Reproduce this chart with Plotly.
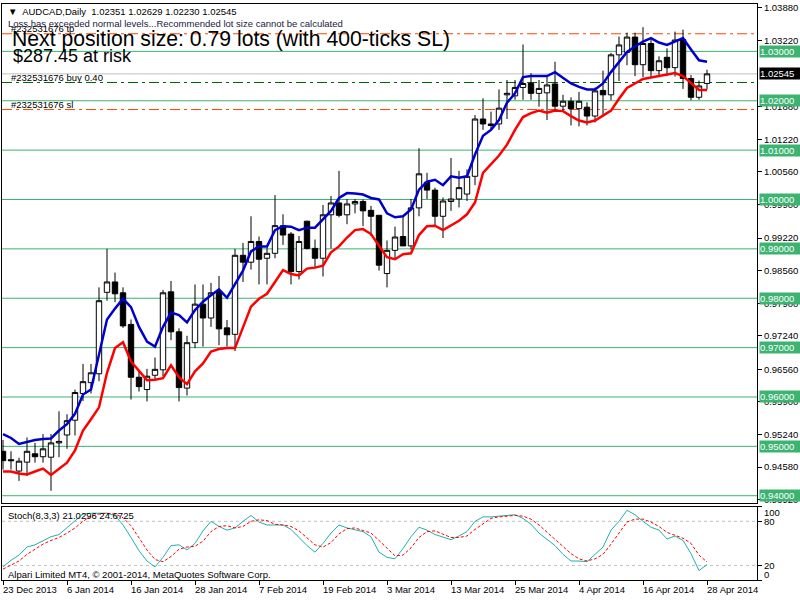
import plotly.graph_objects as go

# ---------------- data ----------------
tick_labels = ["23 Dec 2013", "6 Jan 2014", "16 Jan 2014", "28 Jan 2014", "7 Feb 2014",
               "19 Feb 2014", "3 Mar 2014", "13 Mar 2014", "25 Mar 2014", "4 Apr 2014",
               "16 Apr 2014", "28 Apr 2014"]
tick_bars = [0, 8, 16, 24, 32, 40, 48, 56, 64, 72, 80, 88]

opens = [0.9490, 0.9473, 0.9450, 0.9468, 0.9485, 0.9479, 0.9478, 0.9507, 0.9523, 0.9553,
         0.9607, 0.9629, 0.9647, 0.9812, 0.9833, 0.9811, 0.9747, 0.9640, 0.9615, 0.9644,
         0.9655, 0.9813, 0.9732, 0.9618, 0.9710, 0.9788, 0.9760, 0.9814, 0.9740, 0.9727,
         0.9887, 0.9873, 0.9915, 0.9881, 0.9891, 0.9947, 0.9930, 0.9854, 0.9956, 0.9901,
         0.9881, 0.9969, 0.9993, 0.9969, 0.9991, 0.9996, 0.9978, 0.9968, 0.9850, 0.9897,
         0.9925, 0.9906, 0.9983, 1.0035, 1.0019, 0.9966, 0.9996, 1.0001, 1.0011, 1.0047,
         1.0163, 1.0153, 1.0153, 1.0212, 1.0210, 1.0227, 1.0235, 1.0215, 1.0216, 1.0234,
         1.0189, 1.0199, 1.0184, 1.0187, 1.0169, 1.0221, 1.0212, 1.0293, 1.0298, 1.0329,
         1.0273, 1.0316, 1.0261, 1.0288, 1.0267, 1.0324, 1.0245, 1.0207, 1.02351]
highs = [0.9513, 0.9490, 0.9477, 0.9518, 0.9507, 0.9525, 0.9525, 0.9571, 0.9565, 0.9615,
         0.9667, 0.9667, 0.9822, 0.9900, 0.9852, 0.9822, 0.9757, 0.9652, 0.9657, 0.9680,
         0.9817, 0.9835, 0.9739, 0.9724, 0.9828, 0.9828, 0.9831, 0.9845, 0.9756, 0.9900,
         0.9912, 0.9966, 0.9925, 0.9903, 1.0009, 0.9970, 0.9934, 0.9926, 0.9957, 0.9919,
         0.9989, 1.0007, 1.0058, 1.0001, 1.0001, 1.0000, 0.9987, 0.9968, 0.9917, 0.9945,
         0.9966, 1.0001, 1.0104, 1.0054, 1.0024, 1.0004, 1.0084, 1.0058, 1.0061, 1.0171,
         1.0205, 1.0178, 1.0223, 1.0242, 1.0242, 1.0314, 1.0256, 1.0242, 1.0248, 1.0279,
         1.0212, 1.0207, 1.0218, 1.0197, 1.0227, 1.0261, 1.0297, 1.0330, 1.0338, 1.0338,
         1.0349, 1.0324, 1.0290, 1.0306, 1.0340, 1.0344, 1.0252, 1.0241, 1.02629]
lows = [0.9453, 0.9453, 0.9430, 0.9440, 0.9467, 0.9467, 0.9410, 0.9478, 0.9495, 0.9522,
        0.9592, 0.9607, 0.9632, 0.9795, 0.9792, 0.9740, 0.9595, 0.9611, 0.9591, 0.9635,
        0.9642, 0.9715, 0.9591, 0.9603, 0.9699, 0.9702, 0.9742, 0.9705, 0.9702, 0.9693,
        0.9833, 0.9858, 0.9828, 0.9828, 0.9881, 0.9908, 0.9828, 0.9838, 0.9899, 0.9862,
        0.9844, 0.9901, 0.9964, 0.9950, 0.9972, 0.9946, 0.9926, 0.9856, 0.9822, 0.9878,
        0.9906, 0.9899, 0.9966, 1.0001, 0.9947, 0.9922, 0.9977, 0.9984, 0.9997, 1.0029,
        1.0141, 1.0141, 1.0141, 1.0163, 1.0202, 1.0202, 1.0202, 1.0188, 1.0161, 1.0181,
        1.0180, 1.0150, 1.0148, 1.0150, 1.0156, 1.0170, 1.0201, 1.0240, 1.0272, 1.0250,
        1.0248, 1.0246, 1.0252, 1.0250, 1.0249, 1.0224, 1.0201, 1.0202, 1.02230]
closes = [0.9471, 0.9471, 0.9470, 0.9490, 0.9479, 0.9495, 0.9507, 0.9510, 0.9552, 0.9609,
          0.9631, 0.9649, 0.9795, 0.9833, 0.9809, 0.9744, 0.9640, 0.9621, 0.9642, 0.9656,
          0.9811, 0.9732, 0.9619, 0.9710, 0.9788, 0.9760, 0.9811, 0.9738, 0.9726, 0.9887,
          0.9873, 0.9915, 0.9879, 0.9891, 0.9947, 0.9928, 0.9854, 0.9915, 0.9901, 0.9881,
          0.9969, 0.9993, 0.9968, 0.9991, 0.9996, 0.9977, 0.9966, 0.9867, 0.9897, 0.9924,
          0.9906, 0.9983, 1.0052, 1.0019, 0.9966, 0.9997, 1.0001, 1.0024, 1.0047, 1.0163,
          1.0153, 1.0150, 1.0185, 1.0215, 1.0227, 1.0235, 1.0215, 1.0225, 1.0232, 1.0189,
          1.0199, 1.0184, 1.0199, 1.0169, 1.0220, 1.0212, 1.0293, 1.0313, 1.0329, 1.0273,
          1.0316, 1.0261, 1.0281, 1.0267, 1.0323, 1.0245, 1.0207, 1.0230, 1.02545]

upper_band = [0.9525, 0.9517, 0.9505, 0.9509, 0.9513, 0.9515, 0.9516, 0.9532, 0.9545, 0.9566,
              0.9605, 0.9615, 0.9685, 0.9757, 0.9779, 0.9799, 0.9782, 0.9742, 0.9712, 0.9702,
              0.9742, 0.9771, 0.9766, 0.9751, 0.9776, 0.9793, 0.9806, 0.9818, 0.9801, 0.9830,
              0.9856, 0.9895, 0.9905, 0.9905, 0.9938, 0.9946, 0.9945, 0.9938, 0.9943, 0.9943,
              0.9960, 0.9977, 1.0003, 1.0013, 1.0012, 1.0010, 1.0003, 1.0000, 0.9972, 0.9964,
              0.9966, 0.9980, 1.0020, 1.0036, 1.0040, 1.0029, 1.0047, 1.0044, 1.0047, 1.0091,
              1.0129, 1.0141, 1.0161, 1.0196, 1.0215, 1.0248, 1.0250, 1.0250, 1.0250, 1.0258,
              1.0246, 1.0235, 1.0228, 1.0223, 1.0223, 1.0235, 1.0258, 1.0279, 1.0299, 1.0310,
              1.0320, 1.0327, 1.0318, 1.0313, 1.0320, 1.0327, 1.0304, 1.0282, 1.0279]
lower_band = [0.9449, 0.9449, 0.9445, 0.9443, 0.9449, 0.9455, 0.9442, 0.9455, 0.9467, 0.9492,
              0.9532, 0.9555, 0.9579, 0.9649, 0.9699, 0.9711, 0.9672, 0.9653, 0.9634, 0.9635,
              0.9638, 0.9664, 0.9640, 0.9626, 0.9652, 0.9668, 0.9692, 0.9697, 0.9699, 0.9699,
              0.9739, 0.9783, 0.9799, 0.9809, 0.9833, 0.9857, 0.9849, 0.9846, 0.9860, 0.9862,
              0.9866, 0.9893, 0.9905, 0.9923, 0.9938, 0.9940, 0.9930, 0.9906, 0.9883, 0.9879,
              0.9889, 0.9891, 0.9928, 0.9946, 0.9947, 0.9938, 0.9947, 0.9957, 0.9970, 0.9994,
              1.0054, 1.0071, 1.0089, 1.0111, 1.0141, 1.0167, 1.0175, 1.0180, 1.0176, 1.0180,
              1.0179, 1.0169, 1.0160, 1.0156, 1.0160, 1.0170, 1.0180, 1.0204, 1.0226, 1.0235,
              1.0244, 1.0247, 1.0250, 1.0252, 1.0256, 1.0250, 1.0235, 1.0222, 1.0222]

stoch_main = [18, 27, 34, 45, 48, 54, 59, 62, 71, 80,
              90, 91, 91, 91, 88, 75, 58, 40, 26, 18,
              31, 47, 48, 41, 50, 67, 80, 73, 68, 71,
              80, 88, 79, 75, 75, 75, 69, 58, 47, 38,
              50, 64, 75, 71, 68, 66, 59, 38, 31, 29,
              43, 59, 72, 68, 62, 58, 55, 60, 66, 80,
              86, 86, 87, 88, 89, 84, 76, 64, 56, 47,
              35, 26, 26, 25, 35, 45, 68, 80, 95, 89,
              80, 72, 68, 56, 60, 54, 36, 13, 21.0296]
stoch_signal = [15, 21, 26, 35, 42, 49, 54, 58, 64, 71,
                80, 87, 90, 91, 90, 85, 74, 58, 41, 28,
                25, 32, 42, 45, 46, 53, 66, 73, 74, 71,
                73, 80, 82, 81, 76, 75, 73, 67, 58, 48,
                45, 51, 63, 70, 71, 68, 64, 54, 43, 33,
                34, 44, 58, 66, 67, 63, 58, 58, 60, 69,
                77, 84, 86, 87, 88, 87, 83, 75, 65, 56,
                46, 36, 29, 26, 29, 35, 49, 64, 79, 83,
                83, 79, 73, 65, 61, 57, 50, 34, 24.6725]

round_levels = [1.03, 1.02, 1.01, 1.00, 0.99, 0.98, 0.97, 0.96, 0.95, 0.94]
round_level_labels = ["1.03000", "1.02000", "1.01000", "1.00000", "0.99000",
                      "0.98000", "0.97000", "0.96000", "0.95000", "0.94000"]
tp_level = 1.03357
sl_level = 1.01822
entry_level = 1.0237
bid_level = 1.02545
price_ticks = [1.0388, 1.0322, 1.0188, 1.0122, 1.0056, 0.9990, 0.9922,
               0.9856, 0.9790, 0.9724, 0.9656, 0.9590, 0.9524, 0.9458, 0.9392]
price_tick_labels = ["1.03880", "1.03220", "1.01880", "1.01220", "1.00560",
                     "0.99900", "0.99220", "0.98560", "0.97900", "0.97240", "0.96560",
                     "0.95900", "0.95240", "0.94580", "0.93920"]
stoch_ticks = [0, 20, 80, 100]
stoch_tick_labels = ["0", "20", "80", "100"]

# ---------------- figure ----------------
W, H = 800, 600
FONT = "Liberation Sans, Arial, sans-serif"
bars = list(range(len(closes)))


def px(x):
    return x / W


def py(y):
    return 1 - y / H


X_RANGE = [-0.125, 94.25]

fig = go.Figure()
fig.add_trace(go.Candlestick(
    x=bars, open=opens, high=highs, low=lows, close=closes,
    increasing=dict(line=dict(color="black", width=1), fillcolor="white"),
    decreasing=dict(line=dict(color="black", width=1), fillcolor="black"),
    whiskerwidth=0, xaxis="x", yaxis="y", showlegend=False, hoverinfo="skip"))
fig.add_trace(go.Scatter(x=bars, y=upper_band, mode="lines",
                         line=dict(color="#0000CD", width=2.5),
                         xaxis="x", yaxis="y", showlegend=False, hoverinfo="skip"))
fig.add_trace(go.Scatter(x=bars, y=lower_band, mode="lines",
                         line=dict(color="#FF0000", width=2.5),
                         xaxis="x", yaxis="y", showlegend=False, hoverinfo="skip"))
fig.add_trace(go.Scatter(x=bars, y=stoch_main, mode="lines",
                         line=dict(color="#20B2AA", width=1),
                         xaxis="x2", yaxis="y2", showlegend=False, hoverinfo="skip"))
fig.add_trace(go.Scatter(x=bars, y=stoch_signal, mode="lines",
                         line=dict(color="#FF0000", width=1, dash="3px,2px"),
                         xaxis="x2", yaxis="y2", showlegend=False, hoverinfo="skip"))

shapes = []
for lv in round_levels:
    shapes.append(dict(type="line", xref="x domain", x0=0, x1=1, yref="y", y0=lv, y1=lv,
                       line=dict(color="#3CB371", width=1), layer="below"))
for lv in (tp_level, sl_level):
    shapes.append(dict(type="line", xref="x domain", x0=0, x1=1, yref="y", y0=lv, y1=lv,
                       line=dict(color="#FF4500", width=1, dash="10px,4px,3px,4px"), layer="below"))
shapes.append(dict(type="line", xref="x domain", x0=0, x1=1, yref="y", y0=entry_level, y1=entry_level,
                   line=dict(color="#006400", width=1, dash="10px,4px,3px,4px"), layer="below"))
shapes.append(dict(type="line", xref="x domain", x0=0, x1=1, yref="y", y0=bid_level, y1=bid_level,
                   line=dict(color="#C0C0C0", width=1), layer="below"))
for lv in (80, 20):
    shapes.append(dict(type="line", xref="x2 domain", x0=0, x1=1, yref="y2", y0=lv, y1=lv,
                       line=dict(color="#C0C0C0", width=1, dash="3px,3px"), layer="below"))

ann = []
small = dict(family=FONT, size=9.5, color="black")
# header
ann.append(dict(text="\u25BC  AUDCAD,Daily  1.02351 1.02629 1.02230 1.02545", x=px(6), y=py(10),
                xref="paper", yref="paper", xanchor="left", yanchor="middle", showarrow=False, font=small))
ann.append(dict(text="#232531676 tp", x=px(9), y=py(27), xref="paper", yref="paper",
                xanchor="left", yanchor="middle", showarrow=False, font=small))
ann.append(dict(text="Loss has exceeded normal levels...Recommended lot size cannot be calculated",
                x=px(6), y=py(22), xref="paper", yref="paper", xanchor="left", yanchor="middle",
                showarrow=False, font=dict(family=FONT, size=9.5, color="#1a1a3a")))
ann.append(dict(text="Next position size: 0.79 lots (with 400-ticks SL)", x=px(10), y=py(37),
                xref="paper", yref="paper", xanchor="left", yanchor="middle", showarrow=False,
                font=dict(family=FONT, size=21.2, color="black")))
ann.append(dict(text="$287.45 at risk", x=px(11), y=py(54), xref="paper", yref="paper",
                xanchor="left", yanchor="middle", showarrow=False,
                font=dict(family=FONT, size=18, color="black")))
ann.append(dict(text="#232531676 buy 0.40", x=px(9), y=py(76), xref="paper", yref="paper",
                xanchor="left", yanchor="middle", showarrow=False, font=small))
ann.append(dict(text="#232531676 sl", x=px(9), y=py(103), xref="paper", yref="paper",
                xanchor="left", yanchor="middle", showarrow=False, font=small))
ann.append(dict(text="Stoch(8,3,3) 21.0296 24.6725", x=px(6), y=py(517), xref="paper", yref="paper",
                xanchor="left", yanchor="middle", showarrow=False, font=small))
ann.append(dict(text="Alpari Limited MT4, \u00A9 2001-2014, MetaQuotes Software Corp.", x=px(6), y=py(576),
                xref="paper", yref="paper", xanchor="left", yanchor="middle", showarrow=False, font=small))

# price level boxes on the right scale
for lv, lab in zip(round_levels, round_level_labels):
    ann.append(dict(text=lab, x=px(759), y=lv, xref="paper", yref="y", xanchor="left",
                    yanchor="middle", showarrow=False, bgcolor="#3CB371", width=44, align="left",
                    borderpad=0, font=dict(family=FONT, size=9.5, color="white")))
ann.append(dict(text="1.02545", x=px(759), y=bid_level, xref="paper", yref="y", xanchor="left",
                yanchor="middle", showarrow=False, bgcolor="black", width=44, align="left",
                borderpad=0, font=dict(family=FONT, size=9.5, color="white")))

# stochastic scale labels
stoch_label_y = {"100": 514, "80": 523, "20": 567, "0": 576}
for lab in stoch_tick_labels:
    ann.append(dict(text=lab, x=px(762), y=py(stoch_label_y[lab]), xref="paper", yref="paper",
                    xanchor="left", yanchor="middle", showarrow=False, font=small))

# time labels
for b, lab in zip(tick_bars, tick_labels):
    ann.append(dict(text=lab, x=b, y=py(591), xref="x2", yref="paper", xanchor="left",
                    yanchor="middle", xshift=-2, showarrow=False, font=small))

axis_common = dict(showgrid=False, zeroline=False, showline=True, mirror=True,
                   linecolor="black", linewidth=1)

fig.update_layout(
    width=W, height=H, margin=dict(l=0, r=0, t=0, b=0),
    paper_bgcolor="white", plot_bgcolor="white", showlegend=False,
    boxgap=0.25, boxgroupgap=0.1,
    xaxis=dict(domain=[px(2), px(757)], range=X_RANGE, anchor="y", showticklabels=False,
               ticks="", rangeslider=dict(visible=False), **axis_common),
    yaxis=dict(domain=[py(504), py(2)], range=[0.93860, 1.03960], anchor="x", side="right",
               tickmode="array", tickvals=price_ticks, ticktext=price_tick_labels,
               ticks="outside", ticklen=4, tickcolor="black",
               tickfont=dict(family=FONT, size=9.5, color="black"), **axis_common),
    xaxis2=dict(domain=[px(2), px(757)], range=X_RANGE, anchor="y2", showticklabels=False,
                tickmode="array", tickvals=tick_bars, ticks="outside", ticklen=4,
                tickcolor="black", **axis_common),
    yaxis2=dict(domain=[py(582), py(508)], range=[0, 100], anchor="x2", side="right",
                tickmode="array", tickvals=stoch_ticks, ticktext=[""] * 4,
                ticks="outside", ticklen=4, tickcolor="black", **axis_common),
    shapes=shapes, annotations=ann,
)

fig.write_html("out.html")
